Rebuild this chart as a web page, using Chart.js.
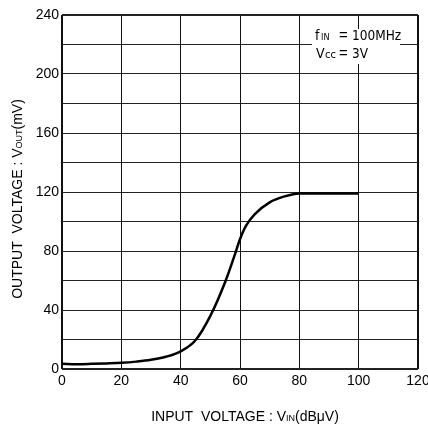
<!DOCTYPE html>
<html>
<head>
<meta charset="utf-8">
<script src="https://cdn.jsdelivr.net/npm/chart.js@4/dist/chart.umd.min.js"></script>
<style>
  html, body { margin: 0; padding: 0; background: #fff; }
  #wrap { width: 428px; height: 425px; position: relative; }
</style>
</head>
<body>
<div id="wrap"><canvas id="chart"></canvas></div>
<script>
// values
const inputVoltage  = [0, 5, 10, 15, 20, 25, 30, 35, 40, 45, 50, 55, 58, 60, 62, 65, 70, 75, 80, 90, 100];
const outputVoltage = [3.5, 3.3, 3.5, 3.8, 4.2, 5, 6.2, 8.3, 12, 19.5, 36, 59, 76, 88, 97, 105, 113, 117, 119, 119, 119];
const xTicks = [0, 20, 40, 60, 80, 100, 120];
const yTicks = [0, 40, 80, 120, 160, 200, 240];

const FONT = '"Liberation Sans", Arial, sans-serif';
const NARROW = '"Liberation Sans Narrow", "DejaVu Sans Condensed", sans-serif';

// draw a run of text pieces (for subscripts)
function runText(ctx, parts, x, y, centre) {
    let total = 0;
    parts.forEach(p => { ctx.font = p.size + 'px ' + (p.f || FONT); total += ctx.measureText(p.t).width; });
    let cx = centre ? x - total / 2 : x;
    parts.forEach(p => {
        ctx.font = p.size + 'px ' + (p.f || FONT);
        ctx.fillText(p.t, p.x !== undefined ? p.x : cx, y + (p.dy || 0));
        cx = (p.x !== undefined ? p.x : cx) + ctx.measureText(p.t).width;
    });
}

const labels = {
    id: 'labels',
    afterDraw(chart) {
        const ctx = chart.ctx;
        ctx.save();
        ctx.fillStyle = '#000';
        ctx.textBaseline = 'alphabetic';

        // x title
        runText(ctx, [
            {t: 'INPUT  VOLTAGE : V', size: 14},
            {t: 'IN', size: 9},
            {t: '(dB\u03BCV)', size: 14}
        ], 245, 421, true);

        // y title
        ctx.translate(22, 199);
        ctx.rotate(-Math.PI / 2);
        runText(ctx, [
            {t: 'OUTPUT  VOLTAGE : V', size: 14},
            {t: 'OUT', size: 9},
            {t: '(mV)', size: 14}
        ], 0, 0, true);
        ctx.setTransform(1, 0, 0, 1, 0, 0);

        // conditions box
        ctx.fillStyle = '#fff';
        ctx.fillRect(312, 29, 88, 35);
        ctx.fillStyle = '#000';
        runText(ctx, [
            {t: 'f', size: 14, f: NARROW, x: 315},
            {t: 'IN', size: 9, f: NARROW, x: 321},
            {t: '=', size: 15, x: 339},
            {t: '100MHz', size: 13.5, f: NARROW, x: 352}
        ], 0, 40, false);
        runText(ctx, [
            {t: 'V', size: 14, f: NARROW, x: 316},
            {t: 'cc', size: 11, f: NARROW, x: 325},
            {t: '=', size: 15, x: 339},
            {t: '3V', size: 13.5, f: NARROW, x: 352}
        ], 0, 58, false);
        ctx.restore();
    }
};

const edge = (ctx, max) => (ctx.tick && (ctx.tick.value === 0 || ctx.tick.value === max)) ? 2 : 1;

new Chart(document.getElementById('chart'), {
    type: 'line',
    data: {
        datasets: [{
            data: inputVoltage.map((x, i) => ({x: x, y: outputVoltage[i]})),
            borderColor: '#000',
            borderWidth: 2.5,
            pointRadius: 0,
            fill: false,
            cubicInterpolationMode: 'monotone'
        }]
    },
    options: {
        responsive: true,
        maintainAspectRatio: false,
        animation: false,
        layout: { padding: { top: 15, right: 10, left: 0, bottom: 0 } },
        plugins: { legend: { display: false }, tooltip: { enabled: false } },
        scales: {
            x: {
                type: 'linear',
                min: 0, max: 120,
                afterBuildTicks: s => { s.ticks = xTicks.map(v => ({value: v})); },
                afterFit: s => { s.height = 56; s.paddingLeft = 0; s.paddingRight = 0; },
                grid: { color: '#111', lineWidth: c => edge(c, 120), drawTicks: false },
                border: { display: false },
                ticks: { color: '#000', padding: 4, font: { family: FONT, size: 14 } }
            },
            y: {
                min: 0, max: 240,
                ticks: {
                    stepSize: 20, color: '#000', padding: 3,
                    font: { family: FONT, size: 14 },
                    callback: v => yTicks.includes(v) ? v : ''
                },
                afterFit: s => { s.width = 62; s.paddingTop = 0; s.paddingBottom = 0; },
                grid: { color: '#222', lineWidth: c => edge(c, 240), drawTicks: false },
                border: { display: false }
            }
        }
    },
    plugins: [labels]
});
</script>
</body>
</html>
